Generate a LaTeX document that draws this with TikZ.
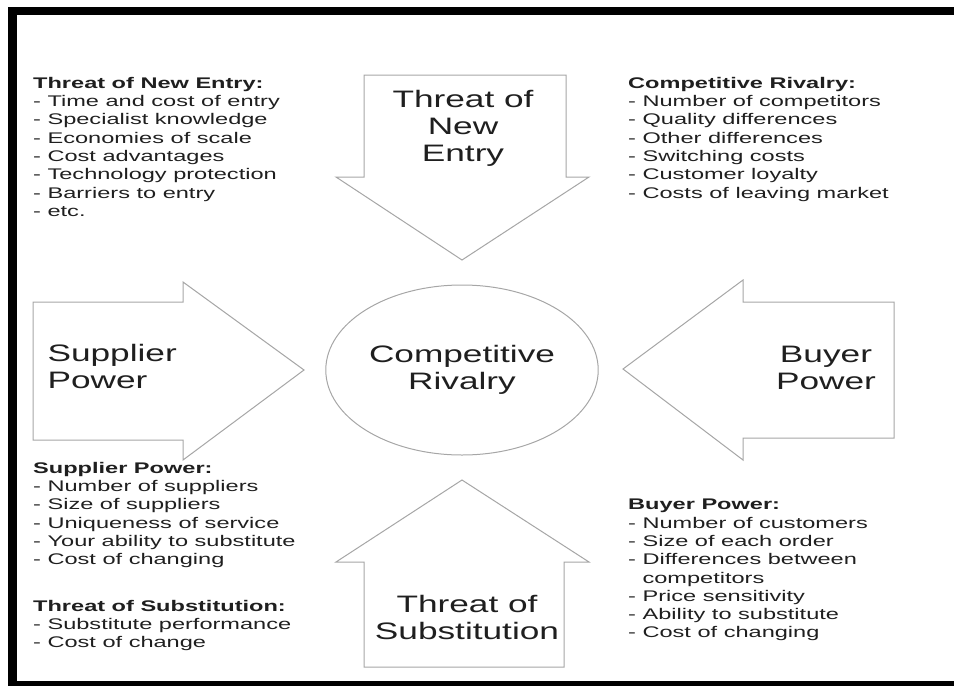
\documentclass[tikz,border=0pt]{standalone}
\usepackage{fontspec}
\setmainfont{Liberation Sans}[FakeStretch=1.48]
\newfontfamily\listfont{Liberation Sans}[FakeStretch=1.53]
\usetikzlibrary{shapes.geometric}

\begin{document}
\begin{tikzpicture}[x=1pt, y=-1pt,
	force/.style={draw=black!35, line width=1pt, fill=white},
	biglabel/.style={align=center, font=\fontsize{23.8}{27}\selectfont, text=black!88},
	factors/.style={align=left, anchor=north west, inner sep=0pt, font=\listfont\fontsize{15.4}{18.3}\selectfont, text=black!88}]
	\useasboundingbox (0,0) rectangle (954,686);
	
	% frame
	\fill (8,7) rectangle (954,15);
	\fill (8,7) rectangle (17,686);
	\fill (8,681) rectangle (954,686);
	
	% the four forces
	\draw[force] (364,75) -- (566,75) -- (566,177) -- (589,177) -- (462,260) -- (336,177) -- (364,177) -- cycle;
	\draw[force] (33,302) -- (183,302) -- (183,282) -- (304,370) -- (183,460) -- (183,440) -- (33,440) -- cycle;
	\draw[force] (894,302) -- (743,302) -- (743,280) -- (623,369) -- (743,460) -- (743,438) -- (894,438) -- cycle;
	\draw[force] (364,667) -- (564,667) -- (564,562) -- (589,562) -- (462,480) -- (336,562) -- (364,562) -- cycle;
	
	\node[ellipse, draw=black!35, line width=1pt, minimum width=251pt, minimum height=170pt, biglabel] (rivalry) at (462,370) {Competitive\\Rivalry};
	\node[biglabel] (entry) at (463,128) {Threat of\\New\\Entry};
	\node[biglabel, align=left, anchor=west] (supplier) at (44,366) {Supplier\\Power};
	\node[biglabel] (buyer) at (826,368) {Buyer\\Power};
	\node[biglabel] (substitution) at (467,617) {Threat of\\Substitution};
	
	% factor lists
	\node[factors] (entrylist) at (33,77) {\textbf{Threat of New Entry:}\\- Time and cost of entry\\- Specialist knowledge\\- Economies of scale\\- Cost advantages\\- Technology protection\\- Barriers to entry\\- etc.};
	\node[factors] (rivalrylist) at (628,77) {\textbf{Competitive Rivalry:}\\- Number of competitors\\- Quality differences\\- Other differences\\- Switching costs\\- Customer loyalty\\- Costs of leaving market};
	\node[factors] (supplierlist) at (33,462) {\textbf{Supplier Power:}\\- Number of suppliers\\- Size of suppliers\\- Uniqueness of service\\- Your ability to substitute\\- Cost of changing};
	\node[factors] (substitutionlist) at (33,600) {\textbf{Threat of Substitution:}\\- Substitute performance\\- Cost of change};
	\node[factors] (buyerlist) at (628,499) {\textbf{Buyer Power:}\\- Number of customers\\- Size of each order\\- Differences between\\\phantom{- }competitors\\- Price sensitivity\\- Ability to substitute\\- Cost of changing};
\end{tikzpicture}
\end{document}
